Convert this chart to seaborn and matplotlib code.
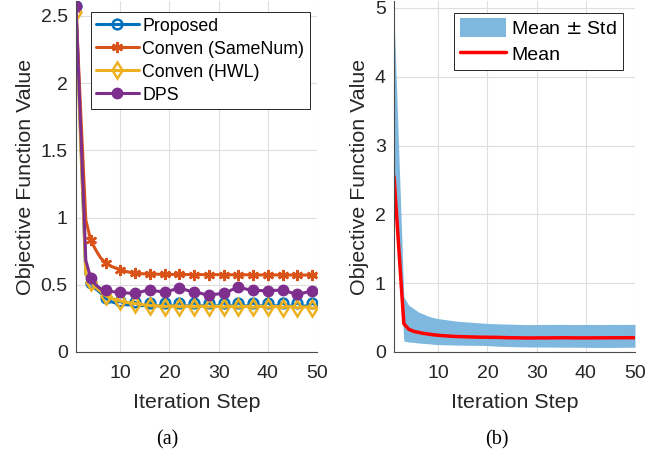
import numpy as np
import pandas as pd
import matplotlib
matplotlib.use("Agg")
import matplotlib.pyplot as plt
import seaborn as sns

# ---------------- data ----------------
iterations = list(range(1, 51))

proposed = [2.57, 1.55, 0.58, 0.51, 0.47, 0.44, 0.40, 0.375, 0.365, 0.38,
            0.352, 0.350, 0.370, 0.345, 0.345, 0.368, 0.343, 0.343, 0.367, 0.343,
            0.343, 0.367, 0.343, 0.343, 0.367, 0.343, 0.343, 0.367, 0.343, 0.343,
            0.367, 0.343, 0.343, 0.367, 0.343, 0.343, 0.367, 0.343, 0.343, 0.367,
            0.343, 0.343, 0.366, 0.342, 0.342, 0.366, 0.342, 0.342, 0.362, 0.345]

conven_samenum = [2.55, 1.75, 0.98, 0.83, 0.76, 0.70, 0.665, 0.640, 0.625, 0.612,
                  0.600, 0.592, 0.586, 0.583, 0.581, 0.580, 0.579, 0.578, 0.578, 0.577,
                  0.577, 0.577, 0.576, 0.576, 0.576, 0.576, 0.575, 0.575, 0.575, 0.575,
                  0.575, 0.574, 0.574, 0.574, 0.574, 0.574, 0.574, 0.573, 0.573, 0.573,
                  0.573, 0.573, 0.573, 0.573, 0.572, 0.572, 0.572, 0.572, 0.572, 0.572]

conven_hwl = [2.53, 1.50, 0.58, 0.52, 0.48, 0.45, 0.42, 0.40, 0.39, 0.38,
              0.370, 0.365, 0.360, 0.355, 0.350, 0.345, 0.345, 0.342, 0.336, 0.342,
              0.342, 0.335, 0.341, 0.341, 0.334, 0.341, 0.341, 0.334, 0.340, 0.340,
              0.333, 0.340, 0.340, 0.333, 0.339, 0.339, 0.332, 0.339, 0.339, 0.331,
              0.338, 0.338, 0.330, 0.337, 0.337, 0.328, 0.335, 0.335, 0.325, 0.330]

dps = [2.57, 1.62, 0.68, 0.55, 0.50, 0.47, 0.46, 0.45, 0.447, 0.448,
       0.440, 0.437, 0.436, 0.445, 0.455, 0.460, 0.455, 0.450, 0.448, 0.455,
       0.465, 0.473, 0.465, 0.455, 0.448, 0.440, 0.430, 0.423, 0.428, 0.432,
       0.436, 0.450, 0.468, 0.480, 0.473, 0.465, 0.460, 0.458, 0.456, 0.455,
       0.457, 0.459, 0.460, 0.450, 0.438, 0.428, 0.436, 0.446, 0.455, 0.465]

mean_vals = [2.55, 1.48, 0.41, 0.33, 0.30, 0.285, 0.270, 0.260, 0.250, 0.243,
             0.237, 0.232, 0.228, 0.224, 0.222, 0.220, 0.218, 0.216, 0.215, 0.214,
             0.213, 0.212, 0.210, 0.208, 0.207, 0.206, 0.205, 0.204, 0.204, 0.205,
             0.205, 0.205, 0.206, 0.206, 0.207, 0.207, 0.206, 0.205, 0.205, 0.205,
             0.205, 0.206, 0.206, 0.206, 0.207, 0.207, 0.207, 0.207, 0.208, 0.208]

upper_vals = [4.90, 2.85, 0.80, 0.68, 0.63, 0.58, 0.55, 0.52, 0.50, 0.485,
              0.475, 0.465, 0.455, 0.447, 0.440, 0.437, 0.430, 0.425, 0.420, 0.415,
              0.412, 0.410, 0.408, 0.406, 0.404, 0.402, 0.400, 0.398, 0.398, 0.399,
              0.400, 0.400, 0.401, 0.401, 0.401, 0.400, 0.399, 0.399, 0.400, 0.400,
              0.401, 0.400, 0.399, 0.400, 0.401, 0.401, 0.400, 0.400, 0.401, 0.401]

lower_vals = [2.45, 1.35, 0.16, 0.145, 0.140, 0.130, 0.125, 0.120, 0.112, 0.107,
              0.105, 0.104, 0.102, 0.100, 0.099, 0.098, 0.097, 0.096, 0.095, 0.094,
              0.088, 0.085, 0.082, 0.080, 0.078, 0.076, 0.075, 0.074, 0.073, 0.073,
              0.072, 0.072, 0.071, 0.071, 0.070, 0.070, 0.070, 0.069, 0.069, 0.068,
              0.067, 0.066, 0.066, 0.065, 0.066, 0.067, 0.068, 0.068, 0.069, 0.070]

left_series = ["Proposed", "Conven (SameNum)", "Conven (HWL)", "DPS"]
left_values = [proposed, conven_samenum, conven_hwl, dps]

x_ticks = [10, 20, 30, 40, 50]
left_yticks = [0, 0.5, 1, 1.5, 2, 2.5]
left_yticklabels = ["0", "0.5", "1", "1.5", "2", "2.5"]
right_yticks = [0, 1, 2, 3, 4, 5]
right_yticklabels = ["0", "1", "2", "3", "4", "5"]

# ---------------- style ----------------
sns.set_theme(style="white")
plt.rcParams["font.family"] = ["Liberation Sans", "DejaVu Sans"]
TXT = "#262626"
AX = "#4d4d4d"
GRID = "#dedede"

colors = ["#0072BD", "#D95319", "#EDB120", "#7E2F8E"]
styles = [
    dict(marker="o", markersize=7, markerfacecolor="none", markeredgewidth=1.8),
    dict(marker=(6, 2, 0), markersize=8, markeredgewidth=1.8),
    dict(marker="d", markersize=8.5, markerfacecolor="none", markeredgewidth=1.8),
    dict(marker="o", markersize=7.5, markeredgewidth=1.0),
]

fig = plt.figure(figsize=(6.71, 4.55), dpi=100)
W, H = 671, 455
axL = fig.add_axes([76 / W, 1 - 352 / H, 241 / W, 351 / H])
axR = fig.add_axes([394 / W, 1 - 352 / H, 241 / W, 351 / H])


def style_axes(ax):
    ax.grid(True, color=GRID, linewidth=0.8)
    ax.set_axisbelow(True)
    for s in ["top", "right"]:
        ax.spines[s].set_visible(False)
    for s in ["left", "bottom"]:
        ax.spines[s].set_color(AX)
        ax.spines[s].set_linewidth(0.8)
    ax.tick_params(direction="in", length=4, width=0.8, color=AX,
                   labelcolor=TXT, labelsize=14)
    ax.tick_params(axis="x", pad=9.5)
    ax.tick_params(axis="y", pad=6)
    ax.set_xlabel("Iteration Step", fontsize=15.4, color=TXT, labelpad=8)
    ax.set_ylabel("Objective Function Value", fontsize=15.4, color=TXT, labelpad=4)
    ax.set_xlim(1, 50)
    ax.set_xticks(x_ticks)
    ax.set_xticklabels([str(t) for t in x_ticks])


# ---------------- left panel ----------------
for name, vals, c, st in zip(left_series, left_values, colors, styles):
    df = pd.DataFrame({"Iteration": iterations, "Value": vals})
    kw = dict(st)
    kw.setdefault("markerfacecolor", c)
    sns.lineplot(data=df, x="Iteration", y="Value", ax=axL, color=c,
                 linewidth=2.2, markevery=3, markeredgecolor=c,
                 label=name, **kw)

style_axes(axL)
axL.set_ylim(0, 2.61)
axL.set_yticks(left_yticks)
axL.set_yticklabels(left_yticklabels)
legL = axL.legend(loc="upper left", bbox_to_anchor=(0.061, 0.968),
                  borderaxespad=0, fontsize=12.8, frameon=True, fancybox=False,
                  edgecolor=TXT, framealpha=1, handlelength=2.4,
                  handletextpad=0.2, labelspacing=0.34, borderpad=0.3,
                  numpoints=1)
legL.get_frame().set_linewidth(0.7)
for t in legL.get_texts():
    t.set_color("black")

# ---------------- right panel ----------------
axR.fill_between(iterations, lower_vals, upper_vals, color="#7FB8DE",
                 linewidth=0, label="Mean $\\pm$ Std")
dfm = pd.DataFrame({"Iteration": iterations, "Mean": mean_vals})
sns.lineplot(data=dfm, x="Iteration", y="Mean", ax=axR, color="#FF0000",
             linewidth=2.5, label="Mean")
style_axes(axR)
axR.set_ylim(0, 5.1)
axR.set_yticks(right_yticks)
axR.set_yticklabels(right_yticklabels)
legR = axR.legend(loc="upper right", bbox_to_anchor=(0.951, 0.967),
                  borderaxespad=0, fontsize=14, frameon=True, fancybox=False,
                  edgecolor=TXT, framealpha=1, handlelength=2.4,
                  handleheight=1.1, handletextpad=0.25, labelspacing=0.3,
                  borderpad=0.3)
legR.get_frame().set_linewidth(0.7)
for t in legR.get_texts():
    t.set_color("black")

# ---------------- captions ----------------
fig.text(167 / W, 1 - 440 / H, "(a)", ha="center", va="center",
         fontsize=14.5, family=["Liberation Serif", "DejaVu Serif"], color="black")
fig.text(497 / W, 1 - 440 / H, "(b)", ha="center", va="center",
         fontsize=14.5, family=["Liberation Serif", "DejaVu Serif"], color="black")

fig.savefig("out.png", dpi=100)
